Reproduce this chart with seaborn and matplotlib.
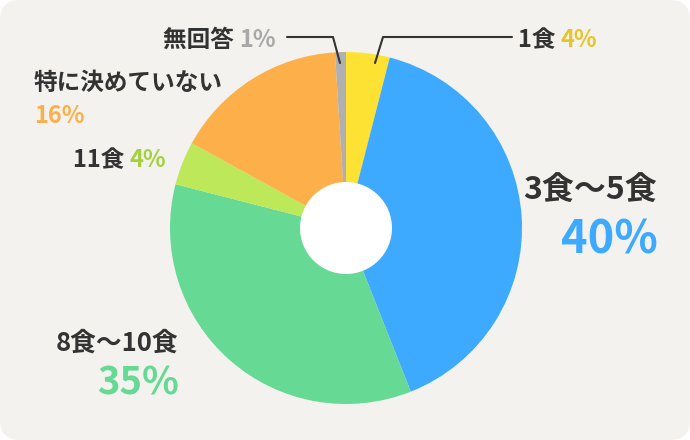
import matplotlib.pyplot as plt
import seaborn as sns
from matplotlib.patches import FancyBboxPatch, Circle

# data (clockwise from 12 o'clock)
categories = ['1食', '3食〜5食', '8食〜10食', '11食', '特に決めていない', '無回答']
shares = [4, 40, 35, 4, 16, 1]
slice_colors = ['#fde234', '#3eaaff', '#66d994', '#bde85a', '#fdb04a', '#b0b0b0']
pct_colors = ['#e6c52c', '#3eaaff', '#66d994', '#a3d13c', '#fdb04a', '#a8a8a8']

sns.set_style('white')
plt.rcParams['font.family'] = ['Noto Sans CJK JP', 'DejaVu Sans']

W, H = 690, 440
fig = plt.figure(figsize=(6.9, 4.4), dpi=100, facecolor='white')
ax = fig.add_axes([0, 0, 1, 1])
ax.set_xlim(0, W)
ax.set_ylim(0, H)
ax.set_aspect('equal')
ax.axis('off')

def py(y):
    # pixel row from top -> data y
    return H - y

# rounded background panel
ax.add_patch(FancyBboxPatch((0, 0), W, H, boxstyle='round,pad=0,rounding_size=20',
                            fc='#f3f2ef', ec='none', zorder=0))

palette = sns.color_palette(slice_colors)
cx, cy, r = 346, py(228), 176
ax.pie(shares, colors=palette, startangle=90, counterclock=False,
       center=(cx, cy), radius=r, frame=True,
       wedgeprops=dict(linewidth=0, antialiased=True))
ax.set_xlim(0, W)
ax.set_ylim(0, H)
ax.axis('off')
ax.add_patch(Circle((cx, cy), 46, fc='white', ec='none', zorder=5))

dark = '#333333'
lbl = dict(color=dark, fontweight='bold', va='center')
small = 17


def name_pct(x, y, i):
    t = ax.text(x, py(y), categories[i] + ' ', fontsize=small, ha='left', **lbl)
    fig.canvas.draw()
    bb = t.get_window_extent()
    ax.text(bb.x1 * W / fig.bbox.width, py(y), f'{shares[i]}%', fontsize=small,
            color=pct_colors[i], fontweight='bold', ha='left', va='center')


# 無回答 1%
name_pct(163, 40, 5)
ax.plot([287, 333, 340], [py(37), py(37), py(63)], color=dark, lw=1.5, zorder=6)

# 1食 4%
name_pct(518, 40, 0)
ax.plot([512, 383, 375], [py(37), py(37), py(63)], color=dark, lw=1.5, zorder=6)

# 3食〜5食 40%
ax.text(657, py(191), categories[1], fontsize=23, ha='right', **lbl)
ax.text(658, py(240), f'{shares[1]}%', fontsize=32.5, color=pct_colors[1],
        fontweight='bold', ha='right', va='center')

# 8食〜10食 35%
ax.text(178, py(343), categories[2], fontsize=18.5, ha='right', **lbl)
ax.text(179, py(383), f'{shares[2]}%', fontsize=27.5, color=pct_colors[2],
        fontweight='bold', ha='right', va='center')

# 11食 4%
name_pct(73, 160, 3)

# 特に決めていない 16%
ax.text(34, py(83), categories[4], fontsize=small, ha='left', **lbl)
ax.text(34, py(116), f'{shares[4]}%', fontsize=small, color=pct_colors[4],
        fontweight='bold', ha='left', va='center')

fig.savefig('out.png', dpi=100, facecolor='white')
